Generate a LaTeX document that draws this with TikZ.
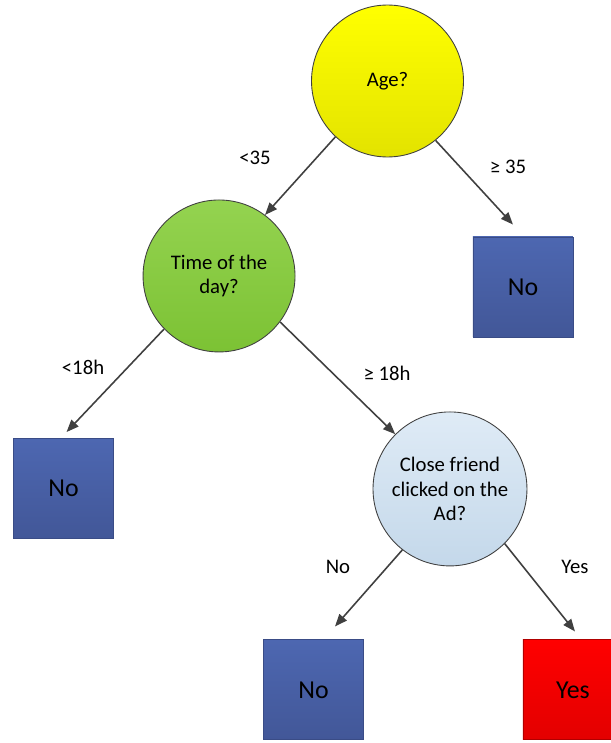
\documentclass[tikz,border=0pt]{standalone}
\usepackage{fontspec}
\setmainfont{Carlito}
\usepackage{xcolor}
\usetikzlibrary{positioning, arrows.meta}

\definecolor{ageTop}{HTML}{FFFF00}
\definecolor{ageBot}{HTML}{E3E300}
\definecolor{timeTop}{HTML}{94D350}
\definecolor{timeBot}{HTML}{7CC234}
\definecolor{closeTop}{HTML}{DFEBF6}
\definecolor{closeBot}{HTML}{C4D8EA}
\definecolor{leafTop}{HTML}{4D67B1}
\definecolor{leafBot}{HTML}{425798}
\definecolor{leafLine}{HTML}{3A4C86}
\definecolor{yesTop}{HTML}{FF0000}
\definecolor{yesBot}{HTML}{E30000}
\definecolor{yesLine}{HTML}{B00000}
\definecolor{arrowGray}{HTML}{404040}

\begin{document}
\begin{tikzpicture}[x=0.02cm,y=0.02cm,node distance=1cm,on grid,
    decision/.style={circle,draw=arrowGray,line width=0.5pt,minimum size=3.04cm,
                     inner sep=0pt,align=center,font=\fontsize{11.8}{14.2}\selectfont},
    leaf/.style={rectangle,draw=leafLine,line width=0.5pt,minimum size=2cm,inner sep=0pt,
                 top color=leafTop,bottom color=leafBot,font=\fontsize{14.7}{17}\selectfont},
    branch/.style={draw=arrowGray,line width=0.9pt,-{Triangle[length=7pt,width=5.5pt]}},
    cond/.style={font=\fontsize{11.8}{14}\selectfont}]

  \useasboundingbox (0,0) rectangle (611,-743);
  \clip (0,0) rectangle (611,-743);

  \node[decision,top color=ageTop,bottom color=ageBot] (age) at (387.5,-81) {Age?};
  \node[decision,top color=timeTop,bottom color=timeBot] (time) [below left=3.9cm and 3.37cm of age] {Time of the\\day?};
  \node[leaf] (noA) [below right=4.12cm and 2.71cm of age] {No};
  \node[leaf] (noB) [below left=4.25cm and 3.11cm of time] {No};
  \node[decision,minimum size=3.08cm,top color=closeTop,bottom color=closeBot] (close) [below right=4.26cm and 4.62cm of time] {Close friend\\clicked on the\\Ad?};
  \node[leaf] (noC) [below left=4.02cm and 2.73cm of close] {No};
  \node[leaf,draw=yesLine,top color=yesTop,bottom color=yesBot] (yes) [below right=4.02cm and 2.46cm of close] {Yes};

  \draw[branch] (age.227) -- (time.53);
  \draw[branch] (age.-51) -- ([shift={(-10,12)}]noA.north);
  \draw[branch] (time.-136) -- ([shift={(3,6)}]noB.north);
  \draw[branch] (time.-37) -- (close.135);
  \draw[branch] (close.-128) -- ([shift={(21.5,13)}]noC.north);
  \draw[branch] (close.-45) -- ([shift={(2,8)}]yes.north);

  \node[cond,shift={(-132.5,-77)}] at (age) {<35};
  \node[cond,shift={(120.5,-86)}] at (age) {≥ 35};
  \node[cond,shift={(-136,-91)}] at (time) {<18h};
  \node[cond,shift={(168,-97)}] at (time) {≥ 18h};
  \node[cond,shift={(-112,-78)}] at (close) {No};
  \node[cond,shift={(125,-78)}] at (close) {Yes};
\end{tikzpicture}
\end{document}
